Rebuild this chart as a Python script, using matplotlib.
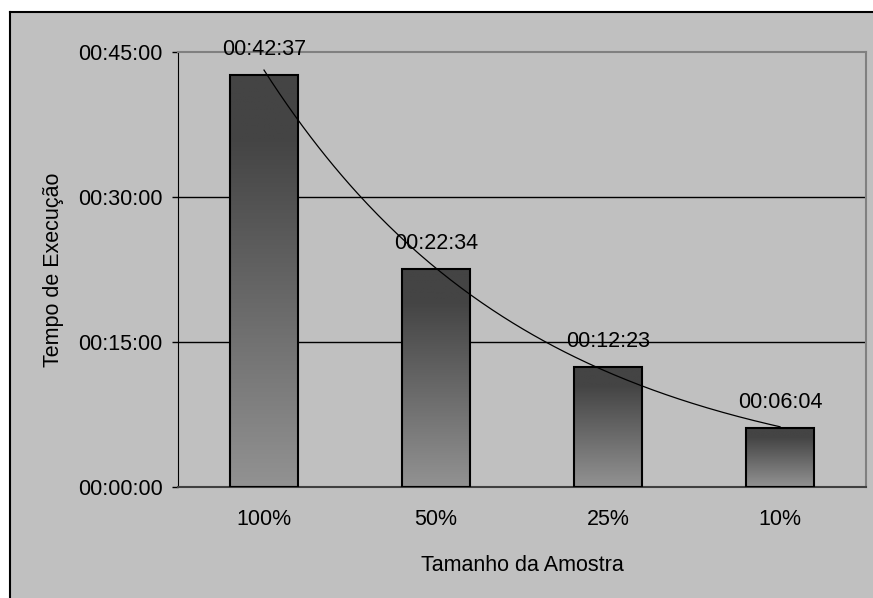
import matplotlib
matplotlib.use('Agg')
import matplotlib.pyplot as plt
import numpy as np
from matplotlib.patches import Rectangle
from matplotlib.lines import Line2D
from matplotlib.colors import LinearSegmentedColormap
from matplotlib.ticker import FuncFormatter

# Execution time per sample size (seconds)
categories = ['100%', '50%', '25%', '10%']
exec_seconds = [2557, 1354, 743, 364]   # 00:42:37, 00:22:34, 00:12:23, 00:06:04
y_ticks = [0, 900, 1800, 2700]


def hms(sec, pos=None):
    sec = int(round(sec))
    return '%02d:%02d:%02d' % (sec // 3600, (sec % 3600) // 60, sec % 60)


plt.rcParams['font.family'] = ['Liberation Sans', 'DejaVu Sans']
plt.rcParams['font.size'] = 15.5

fig = plt.figure(figsize=(8.73, 5.98), dpi=100, facecolor='#c0c0c0')

# white margin above and left of the chart area, black frame edges
left, top = 10 / 873, 1 - 12 / 598
fig.patches.append(Rectangle((0, top), 1, 1 - top, transform=fig.transFigure,
                             facecolor='white', edgecolor='none', zorder=-10))
fig.patches.append(Rectangle((0, 0), left, 1, transform=fig.transFigure,
                             facecolor='white', edgecolor='none', zorder=-10))
fig.lines.append(Line2D([left, 1], [top, top], transform=fig.transFigure,
                        color='black', linewidth=1.5))
fig.lines.append(Line2D([left, left], [0, top], transform=fig.transFigure,
                        color='black', linewidth=1.5))

ax = fig.add_axes([178 / 873, 111 / 598, 688 / 873, 435 / 598])
ax.set_facecolor('#c0c0c0')

x = np.arange(1, len(categories) + 1)
bar_w = 0.4

# vertical gradient: dark at top, lighter toward the base
cmap = LinearSegmentedColormap.from_list('bargrad', ['#929292', '#444444'])
t = np.linspace(0, 1, 256)
grad = np.clip(t / 0.85, 0, 1).reshape(-1, 1)

bars = ax.bar(x, exec_seconds, width=bar_w, facecolor='none',
              edgecolor='black', linewidth=1.5, zorder=3)
for b in bars:
    x0, w, h = b.get_x(), b.get_width(), b.get_height()
    im = ax.imshow(grad, cmap=cmap, origin='lower', aspect='auto',
                   extent=(x0, x0 + w, 0, h), zorder=2, vmin=0, vmax=1)
    im.set_clip_path(b)

# exponential trend line
coef = np.polyfit(x, np.log(exec_seconds), 1)
xs = np.linspace(1, 4, 200)
ax.plot(xs, np.exp(coef[1] + coef[0] * xs), color='black', linewidth=0.9, zorder=4)

for xi, v in zip(x, exec_seconds):
    ax.annotate(hms(v), (xi, v), xytext=(0, 14.5), textcoords='offset points',
                ha='center', va='baseline', zorder=5)

ax.set_xlim(0.5, 4.5)
ax.set_ylim(0, 2700)
ax.set_yticks(y_ticks)
ax.yaxis.set_major_formatter(FuncFormatter(hms))
ax.set_xticks(x)
ax.set_xticklabels(categories)
ax.tick_params(axis='x', length=0, pad=16)
ax.tick_params(axis='y', direction='out', length=4.5, width=1, pad=6.5)

for yv in y_ticks[1:3]:
    ax.axhline(yv, color='black', linewidth=1, zorder=1)

ax.spines['left'].set_color('black')
ax.spines['bottom'].set_color('#404040')
ax.spines['bottom'].set_linewidth(1.5)
for s in ('top', 'right'):
    ax.spines[s].set_color('#808080')
    ax.spines[s].set_linewidth(1.5)

ax.set_xlabel('Tamanho da Amostra', labelpad=18)
ax.set_ylabel('Tempo de Execução', labelpad=10)

fig.savefig('out.png', dpi=100, facecolor=fig.get_facecolor())
